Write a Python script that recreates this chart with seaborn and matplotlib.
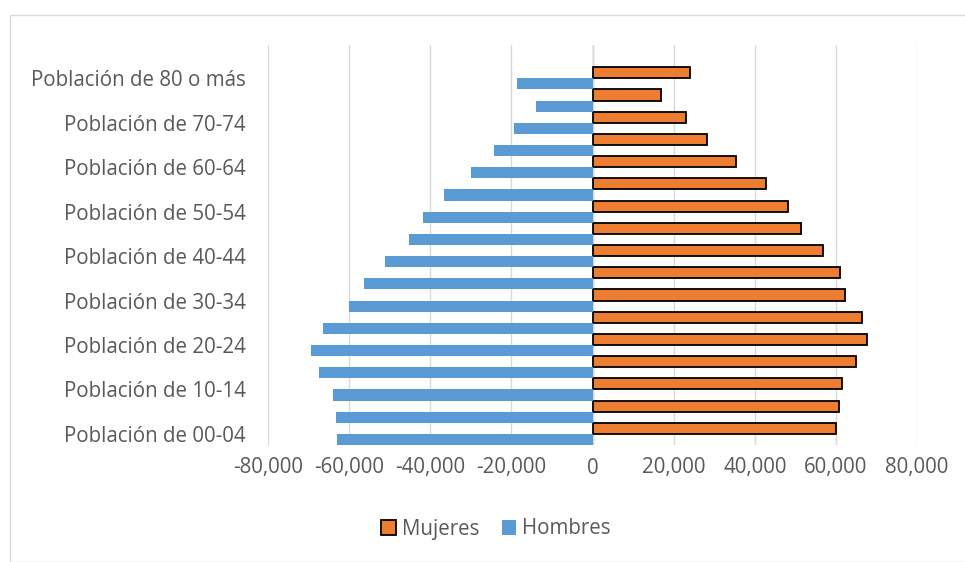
import matplotlib
matplotlib.use("Agg")
import matplotlib.pyplot as plt
import seaborn as sns
import pandas as pd
import numpy as np
from matplotlib.patches import Patch, Rectangle
from matplotlib.ticker import FuncFormatter

# Data (bottom to top in the chart)
groups = ["00-04", "05-09", "10-14", "15-19", "20-24", "25-29", "30-34", "35-39",
          "40-44", "45-49", "50-54", "55-59", "60-64", "65-69", "70-74", "75-79", "80 o más"]
mujeres = [60100, 60750, 61500, 64900, 67600, 66500, 62250, 60950,
           56900, 51350, 48150, 42800, 35300, 28350, 23000, 16900, 24050]
hombres = [62900, 63300, 63950, 67500, 69400, 66400, 60000, 56350,
           51100, 45250, 41700, 36600, 29950, 24300, 19250, 13900, 18600]
series_names = ["Mujeres", "Hombres"]
x_ticks = [-80000, -60000, -40000, -20000, 0, 20000, 40000, 60000, 80000]

labels = ["Población de " + g for g in groups]
order = labels[::-1]  # top to bottom

df = pd.concat([
    pd.DataFrame({"grupo": labels, "valor": mujeres, "sexo": series_names[0]}),
    pd.DataFrame({"grupo": labels, "valor": [-v for v in hombres], "sexo": series_names[1]}),
])

sns.set_theme(style="white")
plt.rcParams["font.family"] = ["Open Sans", "DejaVu Sans"]

W, H = 965, 562
fig = plt.figure(figsize=(W / 100, H / 100), dpi=100)
fig.patch.set_facecolor("white")
ax = fig.add_axes([268 / W, 1 - 445 / H, (917 - 268) / W, (445 - 45) / H])

orange = "#ED7D31"
blue = "#5B9BD5"
text_color = "#595959"
fs = 14.8

sns.barplot(data=df, y="grupo", x="valor", hue="sexo", order=order,
            hue_order=series_names, palette=[orange, blue], orient="h",
            width=1.0, dodge=True, ax=ax, legend=False, saturation=1)

for bar in ax.containers[0]:
    bar.set_edgecolor("black")
    bar.set_linewidth(1.3)
for bar in ax.containers[1]:
    bar.set_linewidth(0)

ax.set_xlim(-80000, 80000)
ax.set_ylim(len(groups) - 0.5, -1.5)
ax.set_xticks(x_ticks)
ax.xaxis.set_major_formatter(FuncFormatter(lambda v, p: f"{int(v):,}"))
ax.grid(axis="x", color="#D9D9D9", linewidth=1)
ax.set_axisbelow(True)
ax.axvline(0, color="#BFBFBF", linewidth=1, zorder=0.5)

ytick_pos = list(range(0, len(groups), 2))
ax.set_yticks(ytick_pos)
ax.set_yticklabels([order[i] for i in ytick_pos])

for s in ax.spines.values():
    s.set_visible(False)
ax.tick_params(axis="both", length=0, labelsize=fs, colors=text_color)
ax.tick_params(axis="y", pad=16)
ax.tick_params(axis="x", pad=9)
ax.set_xlabel("")
ax.set_ylabel("")

handles = [Patch(facecolor=orange, edgecolor="black", linewidth=1.3, label=series_names[0]),
           Patch(facecolor=blue, edgecolor="none", label=series_names[1])]
fig.legend(handles=handles, loc="center", bbox_to_anchor=(496 / W, 1 - 529 / H),
           ncol=2, frameon=False, fontsize=fs, handlelength=0.7, handleheight=0.7,
           handletextpad=0.3, columnspacing=1.1, labelcolor=text_color)

fig.patches.append(Rectangle((10 / W, 0), 1.0, 1 - 15 / H, transform=fig.transFigure,
                             fill=False, edgecolor="#D9D9D9", linewidth=1))

fig.savefig("out.png", dpi=100)
